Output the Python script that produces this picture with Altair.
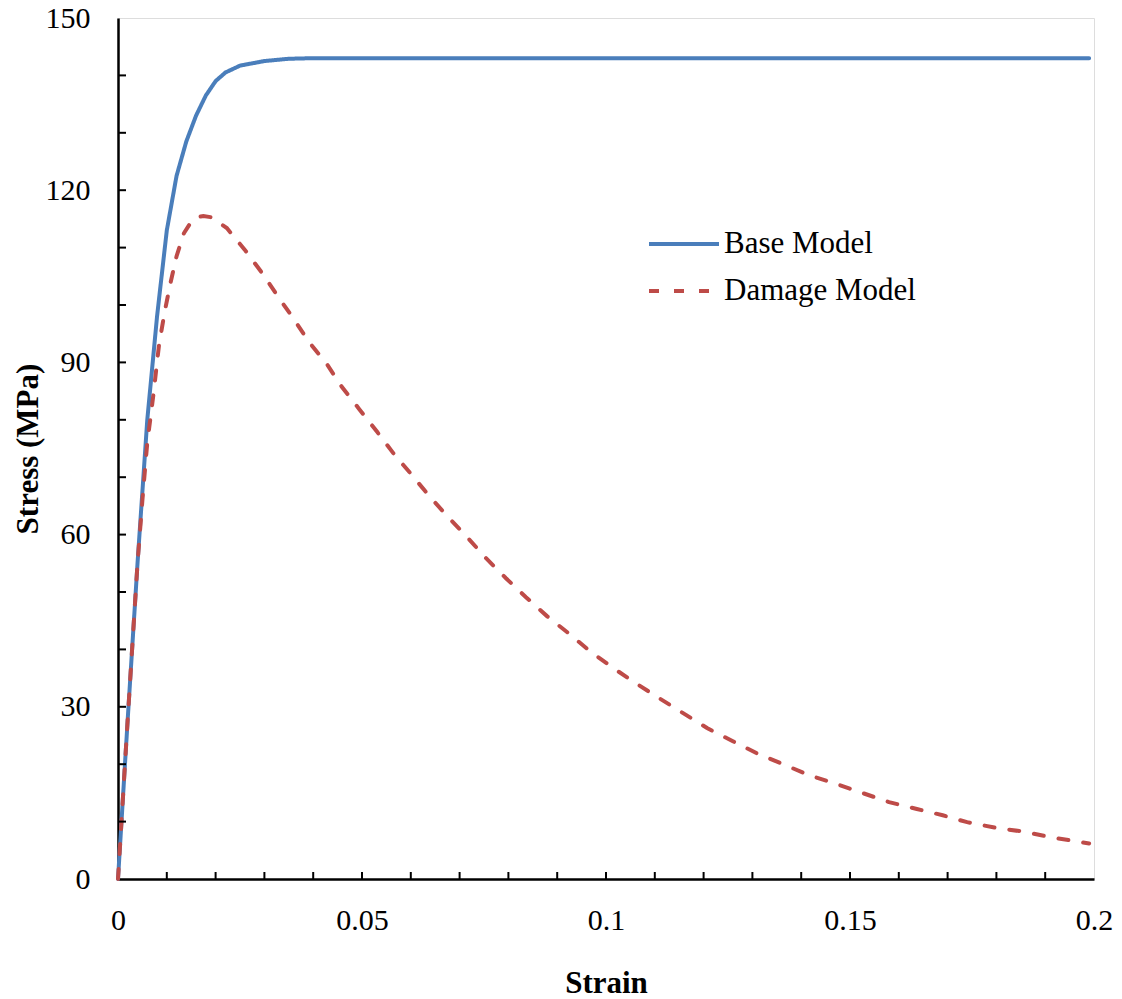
import altair as alt
import pandas as pd

# ---- data ----
base_strain = [0, 0.002, 0.004, 0.006, 0.008, 0.010, 0.012, 0.014, 0.016, 0.018,
               0.020, 0.022, 0.025, 0.030, 0.035, 0.040, 0.060, 0.100, 0.150, 0.199]
base_stress = [0, 28, 55, 80, 98, 113, 122.5, 128.5, 133, 136.5,
               139, 140.5, 141.7, 142.5, 142.9, 143, 143, 143, 143, 143]

damage_strain = [0, 0.002, 0.004, 0.005, 0.006, 0.0072, 0.0084, 0.0096, 0.0108, 0.012,
                 0.0135, 0.015, 0.0162, 0.0175, 0.019, 0.0223, 0.026, 0.0295, 0.0326,
                 0.0359, 0.0391, 0.0428, 0.0459, 0.0494, 0.0531, 0.0564, 0.0602, 0.0637,
                 0.0676, 0.0715, 0.0754, 0.0795, 0.0836, 0.0879, 0.0922, 0.0967, 0.1014,
                 0.1061, 0.1109, 0.1158, 0.1207, 0.126, 0.1309, 0.1363, 0.1416, 0.1471,
                 0.1525, 0.158, 0.1637, 0.169, 0.174, 0.180, 0.186, 0.191, 0.1975, 0.199]
damage_stress = [0, 28, 55, 66, 76, 84, 93, 99, 104, 108.5,
                 112.5, 114.5, 115.3, 115.5, 115.3, 113.4, 109.6, 105.6, 101.7,
                 97.7, 93.6, 89.7, 85.7, 81.9, 77.9, 74.2, 70.4, 66.8,
                 63.1, 59.6, 55.9, 52.4, 49.1, 45.8, 42.9, 39.7, 36.8,
                 34.1, 31.5, 28.9, 26.3, 24.0, 21.9, 20.0, 18.1, 16.6,
                 15.0, 13.4, 12.2, 11.1, 9.9, 8.9, 8.2, 7.3, 6.4, 6.2]

series_names = ["Base Model", "Damage Model"]
series_colors = ["#4A7EBB", "#BE4B48"]

x_label_values = [0, 0.05, 0.1, 0.15, 0.2]
y_label_values = [0, 30, 60, 90, 120, 150]
x_minor_ticks = [round(0.01 * i, 2) for i in range(1, 20)]
y_minor_ticks = [10 * i for i in range(1, 15)]

FONT = "Liberation Serif"
W, H = 976, 861
X_MAX, Y_MAX = 0.2, 150
TICK_PX = 7

df = pd.concat([
    pd.DataFrame({"strain": base_strain, "stress": base_stress, "series": series_names[0], "ord": range(len(base_strain))}),
    pd.DataFrame({"strain": damage_strain, "stress": damage_stress, "series": series_names[1], "ord": range(len(damage_strain))}),
])

xscale = alt.Scale(domain=[0, X_MAX], nice=False, zero=False)
yscale = alt.Scale(domain=[0, Y_MAX], nice=False, zero=False)

xaxis = alt.Axis(values=x_label_values, format="~g", title="Strain", grid=False,
                 ticks=False, labelPadding=26, titlePadding=33,
                 labelFont=FONT, labelFontSize=30, labelColor="black",
                 titleFont=FONT, titleFontSize=31, titleFontWeight="bold", titleColor="black",
                 domainColor="black", domainWidth=2.5, labelFlush=False)
yaxis = alt.Axis(values=y_label_values, title="Stress (MPa)", grid=False,
                 ticks=False, labelPadding=28, titlePadding=1,
                 labelFont=FONT, labelFontSize=30, labelColor="black",
                 titleFont=FONT, titleFontSize=31, titleFontWeight="bold", titleColor="black",
                 domainColor="black", domainWidth=2.5, labelFlush=False)

legend = alt.Legend(title=None, orient="none", legendX=529, legendY=211,
                    symbolType="stroke", symbolSize=4900, symbolStrokeWidth=4,
                    clipHeight=30, labelLimit=400,
                    labelFont=FONT, labelFontSize=31, labelColor="black",
                    labelOffset=3, rowPadding=16)

lines = alt.Chart(df).mark_line(strokeWidth=4, strokeCap="round").encode(
    x=alt.X("strain:Q", scale=xscale, axis=xaxis),
    y=alt.Y("stress:Q", scale=yscale, axis=yaxis),
    order="ord:Q",
    color=alt.Color("series:N", scale=alt.Scale(domain=series_names, range=series_colors),
                    legend=legend),
    strokeDash=alt.StrokeDash("series:N", scale=alt.Scale(domain=series_names, range=[[1, 0], [10, 15]]),
                              legend=legend),
)

xt = pd.DataFrame({"strain": x_minor_ticks})
xticks = alt.Chart(xt).mark_rule(color="black", strokeWidth=2).encode(
    x=alt.X("strain:Q", scale=xscale),
    y=alt.value(H),
    y2=alt.value(H - TICK_PX),
)
yt = pd.DataFrame({"stress": y_minor_ticks})
yticks = alt.Chart(yt).mark_rule(color="black", strokeWidth=2).encode(
    y=alt.Y("stress:Q", scale=yscale),
    x=alt.value(0),
    x2=alt.value(TICK_PX + 1),
)

chart = alt.layer(lines, xticks, yticks).properties(
    width=W, height=H,
    autosize=alt.AutoSizeParams(type="none"),
    padding={"left": 118, "top": 18, "right": 28, "bottom": 120},
).configure_view(stroke="black", strokeWidth=2.5).configure(background="white")

chart.save("out.html", embed_options={"renderer": "svg", "actions": False})
